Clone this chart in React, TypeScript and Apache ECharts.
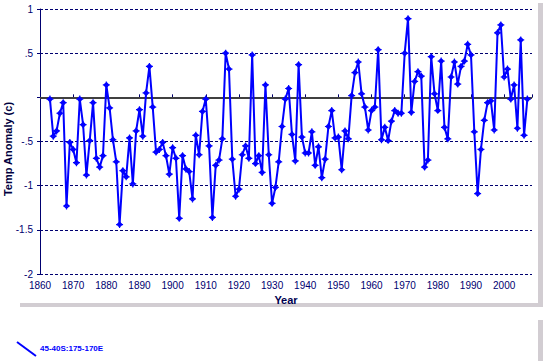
import React, { useEffect, useRef } from "react";
import * as echarts from "echarts";

const START_YEAR = 1863;
const anomalies: number[] = [
  -0.02, -0.44, -0.38, -0.18, -0.06, -1.23, -0.51,
  -0.59, -0.74, -0.02, -0.31, -0.88, -0.49, -0.06, -0.69, -0.79, -0.66,
  0.14, -0.12, -0.48, -0.73, -1.44, -0.83, -0.9, -0.46, -0.98, -0.38,
  -0.14, -0.44, 0.05, 0.35, -0.11, -0.62, -0.59, -0.51, -0.66, -0.87,
  -0.57, -0.69, -1.37, -0.66, -0.81, -0.84, -1.15, -0.43, -0.65, -0.16,
  -0.02, -0.55, -1.36, -0.77, -0.71, -0.47, 0.5, 0.32, -0.7, -1.12,
  -1.04, -0.65, -0.55, -0.69, 0.48, -0.75, -0.66, -0.85, 0.14, -0.65,
  -1.2, -1.02, -0.73, -0.33, -0.02, 0.1, -0.42, -0.72, 0.37, -0.45,
  -0.63, -0.63, -0.39, -0.77, -0.56, -0.91, -0.7, -0.33, -0.15, -0.46,
  -0.45, -0.82, -0.38, -0.47, 0.02, 0.28, 0.4, 0.04, -0.11, -0.37,
  -0.15, -0.11, 0.54, -0.48, -0.34, -0.49, -0.27, -0.15, -0.18, -0.18,
  0.5, 0.89, -0.17, 0.18, 0.29, 0.24, -0.79, -0.71, 0.46, 0.04,
  -0.15, 0.41, -0.34, -0.47, 0.23, 0.4, 0.15, 0.35, 0.41, 0.6,
  0.48, -0.39, -1.09, -0.59, -0.26, -0.06, -0.04, -0.37, 0.73, 0.82,
  0.23, 0.32, -0.02, 0.14, -0.35, 0.65, -0.43, -0.02,
];
const seriesName = "45-40S:175-170E";
const yTickLabels: Record<string, string> = {
  "1": "1",
  "0.5": ".5",
  "0": "",
  "-0.5": "-.5",
  "-1": "-1",
  "-1.5": "-1.5",
  "-2": "-2",
};

const NAVY = "#000070";
const FONT = "'Liberation Sans', Arial, sans-serif";

export default function App() {
  const ref = useRef<HTMLDivElement>(null);
  useEffect(() => {
    if (!ref.current) return;
    const chart = echarts.init(ref.current, undefined, { renderer: "svg" });
    const data = anomalies.map((v, i) => [START_YEAR + i, v]);
    chart.setOption({
      animation: false,
      backgroundColor: "#ffffff",
      textStyle: { fontFamily: FONT },
      grid: { left: 40, right: 11, top: 9, bottom: 87 },
      xAxis: {
        type: "value",
        min: 1860,
        max: 2008.4,
        interval: 10,
        axisLine: { show: true, lineStyle: { color: NAVY, width: 1 } },
        axisTick: { show: true, inside: true, length: 3, lineStyle: { color: NAVY } },
        axisLabel: {
          color: NAVY,
          fontSize: 10,
          fontFamily: FONT,
          margin: 6,
          formatter: (v: number) => (v % 10 === 0 ? String(v) : ""),
        },
        splitLine: { show: false },
        name: "Year",
        nameLocation: "middle",
        nameGap: 16,
        nameTextStyle: { color: "#000050", fontSize: 11, fontWeight: "bold", fontFamily: FONT },
      },
      yAxis: {
        type: "value",
        min: -2,
        max: 1,
        interval: 0.5,
        axisLine: { show: true, lineStyle: { color: NAVY, width: 1 } },
        axisTick: { show: true, length: 3, lineStyle: { color: NAVY } },
        axisLabel: {
          color: NAVY,
          fontSize: 10,
          fontFamily: FONT,
          margin: 7,
          formatter: (v: number) => yTickLabels[String(v)] ?? String(v),
        },
        splitLine: { show: true, lineStyle: { color: NAVY, type: [3, 2], width: 1 } },
      },
      series: [
        {
          name: seriesName,
          type: "line",
          data,
          symbol: "path://M5,1.5 L8.5,5 L5,8.5 L1.5,5 Z M5,0 L5,10 M0,5 L10,5",
          symbolSize: 7,
          itemStyle: { color: "none", borderColor: "#0000ff", borderWidth: 1.2 },
          lineStyle: { color: "#0000ff", width: 2 },
          z: 3,
          markLine: {
            silent: true,
            symbol: "none",
            label: { show: false },
            lineStyle: { color: "#404040", width: 1.8, type: "solid" },
            data: [{ yAxis: 0 }],
            z: 2,
          },
        },
      ],
      graphic: [
        { type: "rect", shape: { x: 538, y: 3, width: 5, height: 304 }, style: { fill: "#d2cdd2" }, silent: true },
        { type: "rect", shape: { x: 20, y: 303, width: 523, height: 4 }, style: { fill: "#d2cdd2" }, silent: true },
        { type: "rect", shape: { x: 538, y: 320, width: 5, height: 41 }, style: { fill: "#d2cdd2" }, silent: true },
        {
          type: "text",
          x: 8,
          y: 149,
          rotation: Math.PI / 2,
          style: {
            text: "Temp Anomaly (c)",
            fill: "#000040",
            font: `bold 11px ${FONT}`,
            textAlign: "center",
            textVerticalAlign: "middle",
          },
        },
        {
          type: "line",
          shape: { x1: 17, y1: 342, x2: 36, y2: 356 },
          style: { stroke: "#0000ff", lineWidth: 2 },
        },
        {
          type: "text",
          x: 40,
          y: 348,
          style: {
            text: seriesName,
            fill: "#0000ff",
            font: `bold 8px ${FONT}`,
            textAlign: "left",
            textVerticalAlign: "middle",
          },
        },
      ],
    });
    return () => chart.dispose();
  }, []);
  return (
    <div
      ref={ref}
      style={{ position: "fixed", left: 0, top: 0, width: 543, height: 361 }}
    />
  );
}
